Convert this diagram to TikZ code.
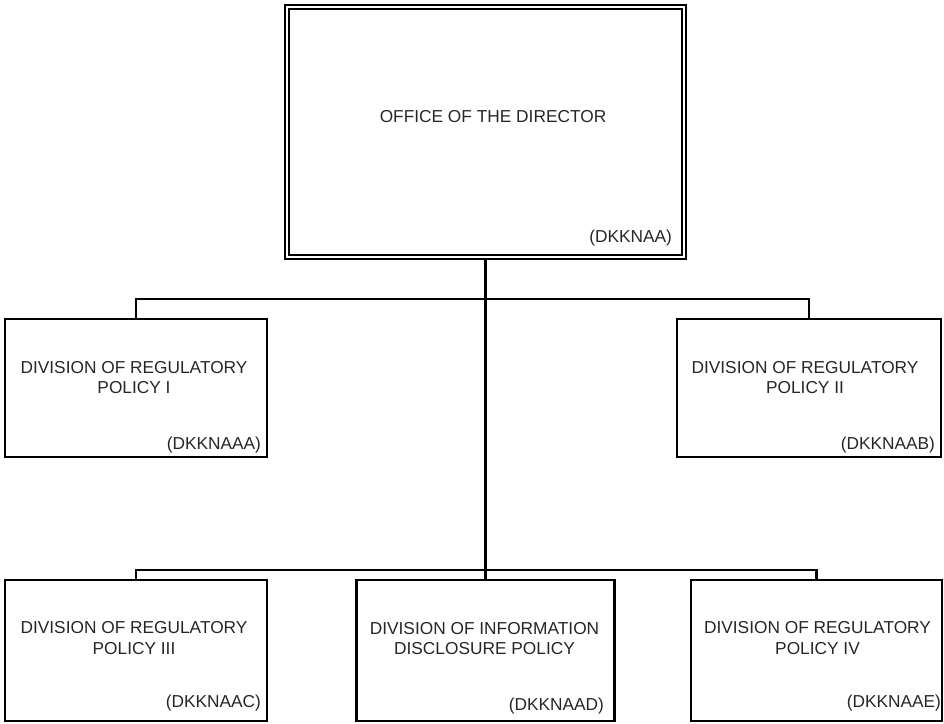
\documentclass[tikz,border=0pt]{standalone}
\usepackage{fontspec}
\setmainfont{Liberation Sans}
\usetikzlibrary{positioning, calc}

\begin{document}
\begin{tikzpicture}[x=0.025cm, y=-0.025cm, line width=1.5pt,
      unit/.style={draw, rectangle, inner sep=0pt},
      chief/.style={draw, double, double distance=1.4pt, line width=1.4pt,
                    inner sep=0pt},
      title/.style={align=center, inner sep=0pt, text=black!85,
                    font=\fontsize{12.3}{14.6}\selectfont},
      code/.style={anchor=east, inner sep=0pt, text=black!85,
                   font=\fontsize{12.3}{14.6}\selectfont}]
    \useasboundingbox (0,0) rectangle (944,723);
    \node[chief, minimum width=9.925cm, minimum height=6.25cm] (dir) at (485.5,132) {};
    \node[unit, minimum width=6.55cm, minimum height=3.45cm] (dra) at (136,388) {};
    \node[unit, minimum width=6.6cm, minimum height=3.45cm] (drb) at (809,388) {};
    \node[unit, minimum width=6.55cm, minimum height=3.525cm] (drc) at (136,650.5) {};
    \node[unit, minimum width=6.45cm, minimum height=3.525cm] (dip) at (485.5,650.5) {};
    \node[unit, minimum width=6.275cm, minimum height=3.525cm] (drd) at (816.5,650.5) {};

    \node[title] (dirt) at (493,117) {OFFICE OF THE DIRECTOR};
    \node[title] (drat) at (134,377.5) {DIVISION OF REGULATORY\\POLICY I};
    \node[title] (drbt) at (805,377.5) {DIVISION OF REGULATORY\\POLICY II};
    \node[title] (drct) at (134,638) {DIVISION OF REGULATORY\\POLICY III};
    \node[title] (dipt) at (484.5,638.5) {DIVISION OF INFORMATION\\DISCLOSURE POLICY};
    \node[title] (drdt) at (817.5,638) {DIVISION OF REGULATORY\\POLICY IV};

    \node[code] (dirc) at (673,238.5) {(DKKNAA)};
    \node[code] (drac) at (262,445) {(DKKNAAA)};
    \node[code] (drbc) at (936,445) {(DKKNAAB)};
    \node[code] (drcc) at (262,703) {(DKKNAAC)};
    \node[code] (dipc) at (605,706) {(DKKNAAD)};
    \node[code] (drdc) at (942,703) {(DKKNAAE)};

    \coordinate (busa) at (485.5,299);
    \coordinate (busb) at (485.5,570);
    \draw (dir.south) -- (dip.north);
    \draw (dra.north) |- (busa) -| (drb.north);
    \draw (drc.north) |- (busb) -| (drd.north);
  \end{tikzpicture}
\end{document}
